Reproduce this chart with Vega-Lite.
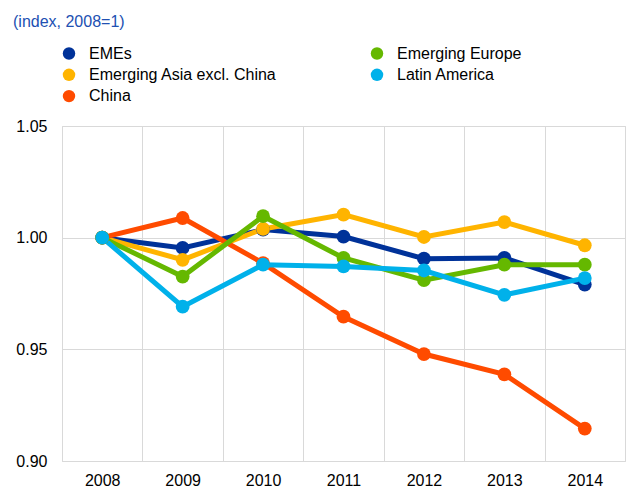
{
  "$schema": "https://vega.github.io/schema/vega-lite/v6.json",
  "width": 563,
  "height": 335,
  "autosize": {"type": "none"},
  "padding": {"left": 62, "top": 126, "right": 1, "bottom": 31},
  "title": {
    "text": "(index, 2008=1)",
    "anchor": "start",
    "frame": "group",
    "color": "#2150B2",
    "font": "Liberation Sans",
    "fontSize": 16,
    "fontWeight": "normal",
    "dx": -49,
    "offset": 16
  },
  "data": {
    "values": [
      {"year": "2008", "series": "EMEs", "value": 1.0},
      {"year": "2009", "series": "EMEs", "value": 0.9954},
      {"year": "2010", "series": "EMEs", "value": 1.0036},
      {"year": "2011", "series": "EMEs", "value": 1.0005},
      {"year": "2012", "series": "EMEs", "value": 0.9906},
      {"year": "2013", "series": "EMEs", "value": 0.9909},
      {"year": "2014", "series": "EMEs", "value": 0.979},
      {"year": "2008", "series": "Emerging Asia excl. China", "value": 1.0},
      {"year": "2009", "series": "Emerging Asia excl. China", "value": 0.9901},
      {"year": "2010", "series": "Emerging Asia excl. China", "value": 1.0039},
      {"year": "2011", "series": "Emerging Asia excl. China", "value": 1.0103},
      {"year": "2012", "series": "Emerging Asia excl. China", "value": 1.0003},
      {"year": "2013", "series": "Emerging Asia excl. China", "value": 1.007},
      {"year": "2014", "series": "Emerging Asia excl. China", "value": 0.9966},
      {"year": "2008", "series": "China", "value": 1.0},
      {"year": "2009", "series": "China", "value": 1.0088},
      {"year": "2010", "series": "China", "value": 0.9886},
      {"year": "2011", "series": "China", "value": 0.9646},
      {"year": "2012", "series": "China", "value": 0.9479},
      {"year": "2013", "series": "China", "value": 0.9388},
      {"year": "2014", "series": "China", "value": 0.9145},
      {"year": "2008", "series": "Emerging Europe", "value": 1.0},
      {"year": "2009", "series": "Emerging Europe", "value": 0.9826},
      {"year": "2010", "series": "Emerging Europe", "value": 1.0096},
      {"year": "2011", "series": "Emerging Europe", "value": 0.9909},
      {"year": "2012", "series": "Emerging Europe", "value": 0.981},
      {"year": "2013", "series": "Emerging Europe", "value": 0.9879},
      {"year": "2014", "series": "Emerging Europe", "value": 0.9879},
      {"year": "2008", "series": "Latin America", "value": 1.0},
      {"year": "2009", "series": "Latin America", "value": 0.9691},
      {"year": "2010", "series": "Latin America", "value": 0.9879},
      {"year": "2011", "series": "Latin America", "value": 0.9871},
      {"year": "2012", "series": "Latin America", "value": 0.9853},
      {"year": "2013", "series": "Latin America", "value": 0.9744},
      {"year": "2014", "series": "Latin America", "value": 0.9819}
    ]
  },
  "encoding": {
    "x": {
      "field": "year",
      "type": "ordinal",
      "sort": null,
      "scale": {"type": "band", "paddingInner": 0, "paddingOuter": 0},
      "axis": {
        "title": null,
        "labelAngle": 0,
        "tickBand": "extent",
        "grid": true,
        "ticks": false,
        "tickSize": 0,
        "domain": false,
        "labelPadding": 11
      }
    },
    "y": {
      "field": "value",
      "type": "quantitative",
      "scale": {"domain": [0.9, 1.05], "nice": false, "zero": false},
      "axis": {
        "title": null,
        "values": [0.9, 0.95, 1.0, 1.05],
        "format": ".2f",
        "ticks": false,
        "tickSize": 0,
        "domain": false,
        "labelPadding": 15
      }
    },
    "color": {
      "field": "series",
      "type": "nominal",
      "scale": {
        "domain": ["EMEs", "Emerging Asia excl. China", "China", "Emerging Europe", "Latin America"],
        "range": ["#003299", "#FFB400", "#FF4B00", "#65B800", "#00B1EA"]
      },
      "legend": {
        "title": null,
        "orient": "none",
        "legendX": -1,
        "legendY": -80.5,
        "columns": 2,
        "columnPadding": 92,
        "rowPadding": 5.3,
        "padding": 0,
        "symbolType": "circle",
        "symbolSize": 155,
        "symbolStrokeWidth": 0,
        "labelFont": "Liberation Sans",
        "labelFontSize": 16,
        "labelColor": "#000000",
        "labelOffset": 12,
        "labelLimit": 400,
        "encode": {
          "symbols": {
            "update": {
              "fill": {"scale": "color", "field": "value"},
              "fillOpacity": {"value": 1},
              "strokeWidth": {"value": 0}
            }
          }
        }
      }
    }
  },
  "layer": [
    {"mark": {"type": "line", "strokeWidth": 5}},
    {"mark": {"type": "point", "filled": true, "size": 190, "opacity": 1}}
  ],
  "config": {
    "font": "Liberation Sans",
    "view": {"stroke": "#d9d9d9"},
    "axis": {
      "gridColor": "#d9d9d9",
      "gridWidth": 1,
      "labelFont": "Liberation Sans",
      "labelFontSize": 16,
      "labelColor": "#000000"
    }
  }
}
